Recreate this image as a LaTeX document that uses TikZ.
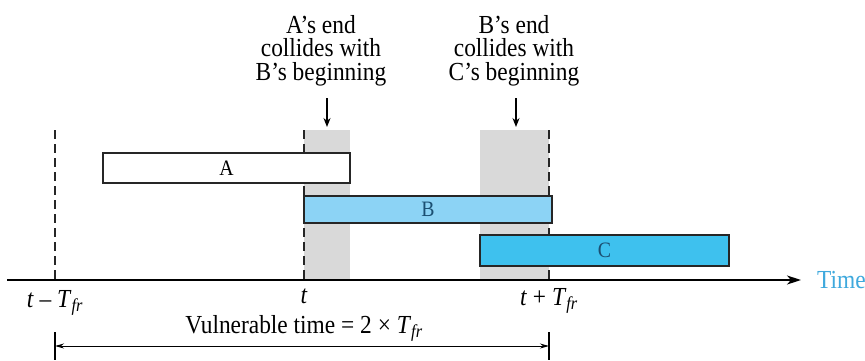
\documentclass[tikz,border=0pt]{standalone}
\usepackage{fontspec}
\setmainfont{Liberation Serif}[FakeStretch=0.9]
\usetikzlibrary{arrows.meta}
\definecolor{grayband}{HTML}{D9D9D9}
\definecolor{lightblue}{HTML}{8CD3F5}
\definecolor{midblue}{HTML}{3EC1EE}
\definecolor{labelblue}{HTML}{1B4F72}
\definecolor{timeblue}{HTML}{3FA9DD}
\newcommand{\Tfr}{\textit{T}\textsubscript{\textit{fr}}}
\tikzset{
  frame/.style={draw=black!85, line width=1.6pt, inner sep=0pt, font=\fontsize{22}{24}\selectfont},
  guide/.style={draw=black!85, line width=1.3pt, dash pattern=on 9pt off 5pt},
  note/.style={align=center, inner sep=0pt, font=\fontsize{26}{23.5}\selectfont},
  lbl/.style={inner sep=0pt, font=\fontsize{26}{28}\selectfont},
  ptr/.style={line width=1.3pt, -{Stealth[length=9pt,width=7pt]}},
}
\begin{document}
\begin{tikzpicture}[x=1pt,y=-1pt]
\useasboundingbox (0,0) rectangle (865,360);
% gray bands
\fill[grayband] (304,130) rectangle (350,280);
\fill[grayband] (480,130) rectangle (549,280);
% dashed guides
\coordinate (g1t) at (55,130);  \coordinate (g1b) at (55,280);
\coordinate (g2t) at (304,130); \coordinate (g2b) at (304,280);
\coordinate (g3t) at (549,130); \coordinate (g3b) at (549,280);
\draw[guide] (g1t) -- (g1b);
\draw[guide] (g2t) -- (g2b);
\draw[guide, line width=2pt] (g3t) -- (g3b);
% frames
\node[frame, fill=white, minimum width=247pt, minimum height=30pt] (A) at (226.5,168) {A};
\node[frame, fill=lightblue, text=labelblue, minimum width=248pt, minimum height=27pt] (B) at (428,209.5) {B};
\node[frame, fill=midblue, text=labelblue, minimum width=249pt, minimum height=31pt] (C) at (604.5,250.5) {C};
% time axis
\coordinate (ax0) at (7,280);
\coordinate (ax1) at (801,280);
\draw[line width=1.4pt, -{Stealth[length=14pt,width=9pt,inset=4pt]}] (ax0) -- (ax1);
\node[lbl, text=timeblue, anchor=west] (time) at (817,280) {Time};
% labels under the axis
\node[lbl, anchor=base] (l1) at (55,307) {\textit{t} -- \Tfr};
\node[lbl, anchor=base] (l2) at (304,303) {\textit{t}};
\node[lbl, anchor=base] (l3) at (549,305) {\textit{t} + \Tfr};
\node[lbl, anchor=base] (vt) at (304,333) {Vulnerable time = 2 × \Tfr};
% vulnerable interval
\coordinate (k1t) at (55,332);  \coordinate (k1b) at (55,360);
\coordinate (k2t) at (549,332); \coordinate (k2b) at (549,360);
\draw[line width=1.3pt] (k1t) -- (k1b);
\draw[line width=1.3pt] (k2t) -- (k2b);
\coordinate (v1) at (55,346); \coordinate (v2) at (549,346);
\draw[line width=1pt, {Stealth[length=9pt,width=5pt]}-{Stealth[length=9pt,width=5pt]}] (v1) -- (v2);
% collision notes
\node[note, anchor=south] (n1) at (321,86) {A's end\\collides with\\B's beginning};
\node[note, anchor=south] (n2) at (514,86) {B's end\\collides with\\C's beginning};
\coordinate (p1) at (327,127); \coordinate (p2) at (516,127);
\draw[ptr] (327,98) -- (p1);
\draw[ptr] (516,98) -- (p2);
\end{tikzpicture}
\end{document}
